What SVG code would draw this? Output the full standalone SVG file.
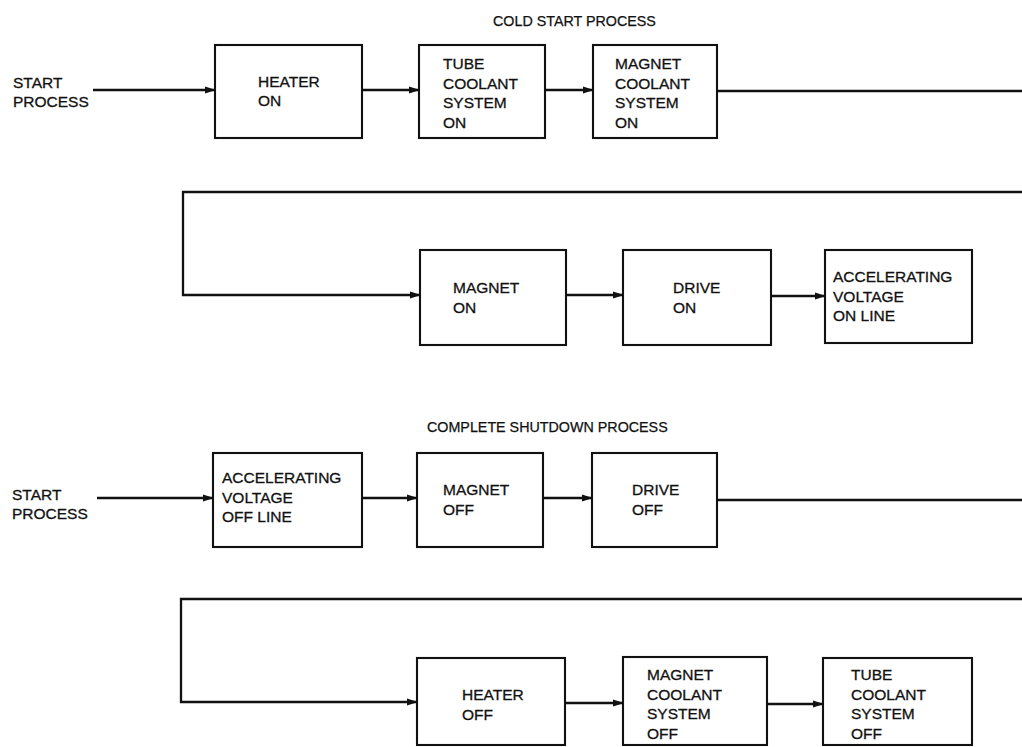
<svg xmlns="http://www.w3.org/2000/svg" width="1022" height="747" viewBox="0 0 1022 747">
<style>
.box{fill:#fff;stroke:#111;stroke-width:2.1}
.t{font-family:"Liberation Sans",Arial,sans-serif;font-size:15.5px;fill:#111;stroke:#111;stroke-width:0.3}
.ttl{font-family:"Liberation Sans",Arial,sans-serif;font-size:14.3px;fill:#111;stroke:#111;stroke-width:0.25}
.c{fill:none;stroke:#111;stroke-width:2.3}
</style>
<defs>
<marker id="ah" markerUnits="userSpaceOnUse" markerWidth="11" markerHeight="8" refX="10" refY="4" orient="auto">
<path d="M0,0.5 L11,4 L0,7.5 z" fill="#111"/>
</marker>
</defs>
<rect width="1022" height="747" fill="#fff"/>
<text class="ttl" x="493" y="26">COLD START PROCESS</text>
<text class="ttl" x="427" y="432">COMPLETE SHUTDOWN PROCESS</text>
<g id="start1"><text class="t" x="13" y="88">START</text><text class="t" x="13" y="107">PROCESS</text></g>
<g id="start2"><text class="t" x="12" y="500">START</text><text class="t" x="12" y="519">PROCESS</text></g>
<g id="connectors">
<path class="c" d="M93,90 H215" marker-end="url(#ah)"/>
<path class="c" d="M362,90 H419" marker-end="url(#ah)"/>
<path class="c" d="M545,90 H593" marker-end="url(#ah)"/>
<path class="c" d="M717,91 H1022"/>
<path class="c" d="M1022,192 H183 V295 H420" marker-end="url(#ah)"/>
<path class="c" d="M566,295 H623" marker-end="url(#ah)"/>
<path class="c" d="M771,296 H825" marker-end="url(#ah)"/>
<path class="c" d="M97,498 H213" marker-end="url(#ah)"/>
<path class="c" d="M362,498 H417" marker-end="url(#ah)"/>
<path class="c" d="M543,498 H592" marker-end="url(#ah)"/>
<path class="c" d="M717,500 H1022"/>
<path class="c" d="M1022,599 H181 V702 H417" marker-end="url(#ah)"/>
<path class="c" d="M565,703 H623" marker-end="url(#ah)"/>
<path class="c" d="M767,704 H823" marker-end="url(#ah)"/>
</g>
<g id="heater-on"><rect class="box" x="215" y="45" width="147" height="93"/><text class="t" x="258" y="87">HEATER</text><text class="t" x="258" y="106">ON</text></g>
<g id="tube-coolant-on"><rect class="box" x="419" y="45" width="126" height="93"/><text class="t" x="443" y="69">TUBE</text><text class="t" x="443" y="88.5">COOLANT</text><text class="t" x="443" y="108">SYSTEM</text><text class="t" x="443" y="127.5">ON</text></g>
<g id="magnet-coolant-on"><rect class="box" x="593" y="45" width="124" height="93"/><text class="t" x="615" y="69">MAGNET</text><text class="t" x="615" y="88.5">COOLANT</text><text class="t" x="615" y="108">SYSTEM</text><text class="t" x="615" y="127.5">ON</text></g>
<g id="magnet-on"><rect class="box" x="420" y="250" width="146" height="95"/><text class="t" x="453" y="293">MAGNET</text><text class="t" x="453" y="312.5">ON</text></g>
<g id="drive-on"><rect class="box" x="623" y="250" width="148" height="95"/><text class="t" x="673" y="293">DRIVE</text><text class="t" x="673" y="312.5">ON</text></g>
<g id="accel-on"><rect class="box" x="825" y="250" width="147" height="93"/><text class="t" x="833" y="282">ACCELERATING</text><text class="t" x="833" y="301.5">VOLTAGE</text><text class="t" x="833" y="321">ON LINE</text></g>
<g id="accel-off"><rect class="box" x="213" y="453" width="149" height="94"/><text class="t" x="222" y="483">ACCELERATING</text><text class="t" x="222" y="502.5">VOLTAGE</text><text class="t" x="222" y="522">OFF LINE</text></g>
<g id="magnet-off"><rect class="box" x="417" y="453" width="126" height="94"/><text class="t" x="443" y="495">MAGNET</text><text class="t" x="443" y="514.5">OFF</text></g>
<g id="drive-off"><rect class="box" x="592" y="453" width="125" height="94"/><text class="t" x="632" y="495">DRIVE</text><text class="t" x="632" y="514.5">OFF</text></g>
<g id="heater-off"><rect class="box" x="417" y="658" width="148" height="87"/><text class="t" x="462" y="700">HEATER</text><text class="t" x="462" y="719.5">OFF</text></g>
<g id="magnet-coolant-off"><rect class="box" x="623" y="657" width="144" height="88"/><text class="t" x="647" y="680">MAGNET</text><text class="t" x="647" y="699.5">COOLANT</text><text class="t" x="647" y="719">SYSTEM</text><text class="t" x="647" y="738.5">OFF</text></g>
<g id="tube-coolant-off"><rect class="box" x="823" y="658" width="149" height="87"/><text class="t" x="851" y="680">TUBE</text><text class="t" x="851" y="699.5">COOLANT</text><text class="t" x="851" y="719">SYSTEM</text><text class="t" x="851" y="738.5">OFF</text></g>
</svg>
